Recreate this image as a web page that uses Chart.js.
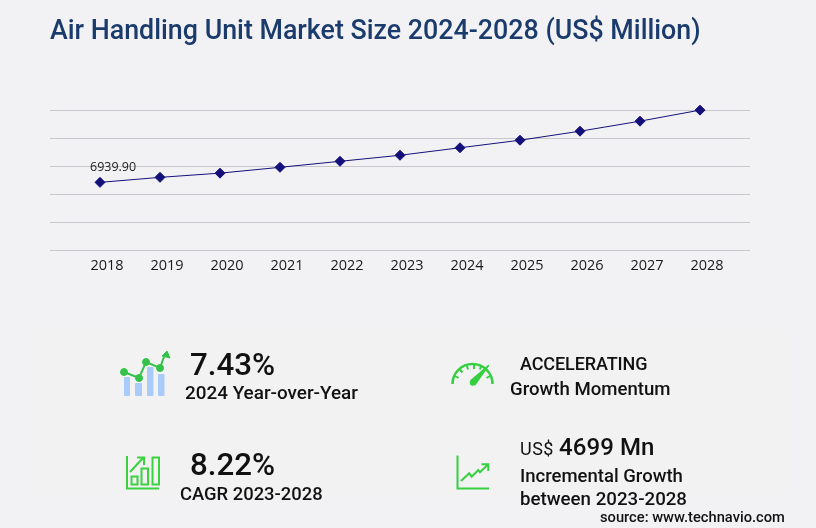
<!DOCTYPE html>
<html><head><meta charset="utf-8">
<script src="https://cdn.jsdelivr.net/npm/chart.js@4"></script>
<style>
html,body{margin:0;padding:0;background:#f2f2f5;width:816px;height:528px;overflow:hidden;font-family:Roboto,sans-serif;color:#111}
#panel{position:absolute;left:30px;top:330px;width:762px;height:165px;background:#f2f2f3}
#c{position:absolute;left:0;top:0;width:816px;height:528px}
.t{position:absolute;white-space:nowrap;line-height:1;font-weight:500}
svg{position:absolute;left:0;top:0}
</style></head><body>
<div id="panel"></div>
<canvas id="c" width="816" height="528"></canvas>
<svg width="816" height="528" viewBox="0 0 816 528" fill="none">
 <g fill="#a9cbfa"><rect x="124" y="377" width="6" height="19" rx="1"/><rect x="135" y="383" width="7" height="13" rx="1"/><rect x="147" y="367" width="6.500" height="29" rx="1"/><rect x="158" y="374" width="6.500" height="22" rx="1"/></g>
 <g stroke="#35c24a" fill="#35c24a"><path d="M124 372L139 378L146 362L160 368L165 354" stroke-width="2" fill="none"/><circle cx="124" cy="372" r="3.500"/><circle cx="139" cy="378" r="3.500"/><circle cx="146" cy="362" r="3.500"/><circle cx="160" cy="368" r="3.500"/><path d="M167 351L170 358L162 356Z"/></g>
 <g stroke="#3bd13f" stroke-width="2"><path d="M127 456V488.500H159"/><rect x="131.500" y="476.500" width="6" height="8"/><rect x="141.500" y="468.500" width="6.500" height="16"/><rect x="152.500" y="457.500" width="6.500" height="27"/><path d="M130 472L143 458M137 457.500H144V465"/></g>
 <g stroke="#35cf40"><path d="M452.500 384A20 20 0 0 1 492.500 384" stroke-width="2.500"/><path d="M455 376L458.500 378M460 369.500L462.500 372.500M467 366L468 369.500M474 365L474 369M481 366L480 369.500M490 376L486.500 378" stroke-width="2"/><path d="M488.500 365.500L475 384.500Q472 385.500 470.800 384.200Q469.800 382.500 471 380.500Z" stroke-width="1.500" stroke-linejoin="round" fill="#35cf40"/></g>
 <path d="M457.500 455.500V488.500H489M461 481L469.300 473.300L471.700 476.700L478.300 470L480 472.300L488 464.500M481.500 464.300H488.300V471" stroke="#35cf40" stroke-width="2"/>
</svg>
<div class="t" style="left:50px;top:17px;font-size:26.8px;color:#1a3b6c" id="title">Air Handling Unit Market Size 2024-2028 (US$ Million)</div>
<div class="t" style="left:190px;top:349px;font-size:31.300px">7.43%</div>
<div class="t" style="left:185px;top:384px;font-size:18.9px">2024 Year-over-Year</div>
<div class="t" style="left:190px;top:449px;font-size:31.300px">8.22%</div>
<div class="t" style="left:180px;top:485px;font-size:18.4px">CAGR 2023-2028</div>
<div class="t" style="left:520px;top:355px;font-size:18px;font-weight:500;letter-spacing:-.1px">ACCELERATING</div>
<div class="t" style="left:510px;top:380px;font-size:18.6px">Growth Momentum</div>
<div class="t" style="left:520px;top:435px;font-weight:400;font-size:18px;letter-spacing:.5px">US$ <span style="font-size:24px;font-weight:500;letter-spacing:.1px">4699 Mn</span></div>
<div class="t" style="left:520px;top:467px;font-size:18.5px">Incremental Growth</div>
<div class="t" style="left:520px;top:490px;font-size:18.7px">between 2023-2028</div>
<div class="t" style="left:600px;top:510px;font-size:14.7px">source: www.technavio.com</div>
<script>
const years=[2018,2019,2020,2021,2022,2023,2024,2025,2026,2027,2028];
const marketSize=[6939.9,7450,7878,8470,9082,9695,10460,11226,12144,13164,14287];
const firstLabel="6939.90";
const firstLabelPlugin={id:'firstLabel',afterDatasetsDraw(chart){
  const p=chart.getDatasetMeta(0).data[0],g=chart.ctx;
  g.save();g.font='12.5px "Open Sans"';g.fillStyle='#1a1a1a';g.textAlign='left';g.textBaseline='middle';
  g.fillText(firstLabel,p.x-10,p.y-15);g.restore();}};
new Chart(document.getElementById('c'),{
 type:'line',
 data:{datasets:[{data:years.map((y,i)=>({x:y,y:marketSize[i]})),clip:false,borderColor:'#14107a',borderWidth:1,pointStyle:'rectRot',pointRadius:5,pointBackgroundColor:'#14107a',pointBorderColor:'#14107a',pointBorderWidth:1,tension:0}]},
 plugins:[firstLabelPlugin],
 options:{responsive:false,animation:false,devicePixelRatio:1,
  layout:{padding:{left:50,right:66,top:110,bottom:255}},
  plugins:{legend:{display:false},title:{display:false},tooltip:{enabled:false}},
  scales:{
   x:{type:'linear',min:2018-5/6,max:2028+5/6,
      afterBuildTicks(s){s.ticks=years.map(v=>({value:v}));},
      grid:{display:false},border:{display:false},
      ticks:{callback:v=>String(v),autoSkip:false,maxRotation:0,padding:-1.5,labelOffset:7,color:'#1a1a1a',font:{family:'"Open Sans"',size:14.5}}},
   y:{min:0,max:14300,
      afterBuildTicks(s){s.ticks=[0,1,2,3,4,5].map(k=>({value:k*2860}));},
      grid:{color:'#c8c8cc',lineWidth:1,drawTicks:false},border:{display:false},
      ticks:{display:false}}
  }}});
</script>
</body></html>
